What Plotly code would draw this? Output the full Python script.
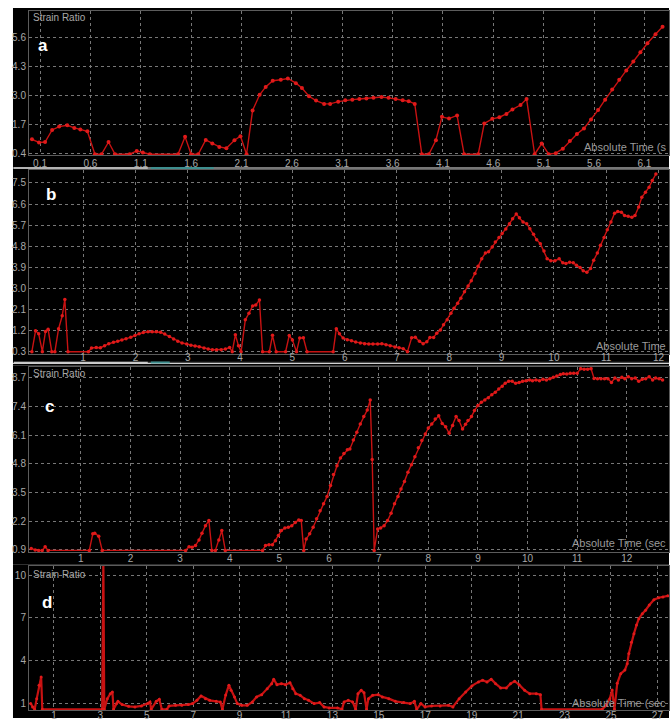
import plotly.graph_objects as go

W, H = 670, 722

# ---------------- data ----------------
a_t = [0.02, 0.09, 0.15, 0.22, 0.29, 0.37, 0.44, 0.50, 0.57, 0.645, 0.71, 0.78, 0.845, 0.99, 1.06, 1.12, 1.19,
       1.47, 1.54, 1.60, 1.67, 1.745, 1.81, 1.88, 1.95, 2.03, 2.09, 2.15, 2.21, 2.28, 2.34, 2.41, 2.49, 2.56,
       2.64, 2.70, 2.77, 2.84, 2.92, 2.98, 3.06, 3.13, 3.20, 3.27, 3.34, 3.41, 3.49, 3.56, 3.63, 3.70, 3.76,
       3.82, 3.89, 3.96, 4.03, 4.09, 4.16, 4.24, 4.31, 4.45, 4.51, 4.59, 4.66, 4.73, 4.79, 4.87, 4.93, 5.01,
       5.08, 5.15, 5.22, 5.29, 5.36, 5.43, 5.50, 5.57, 5.64, 5.71, 5.78, 5.85, 5.92, 5.99, 6.06, 6.13, 6.21, 6.28]
a_v = [1.04, 0.90, 0.92, 1.46, 1.61, 1.67, 1.55, 1.48, 1.40, 0.37, 0.37, 0.92, 0.37, 0.37, 0.52, 0.45, 0.37,
       0.37, 1.15, 0.37, 0.37, 1.01, 0.85, 0.70, 0.64, 1.00, 1.18, 0.37, 2.33, 3.04, 3.39, 3.67, 3.71, 3.77,
       3.56, 3.34, 2.97, 2.78, 2.63, 2.63, 2.73, 2.79, 2.82, 2.85, 2.87, 2.90, 2.94, 2.90, 2.85, 2.79, 2.75,
       2.63, 0.37, 0.37, 1.00, 2.05, 1.97, 2.11, 0.37, 0.37, 1.75, 1.96, 2.03, 2.18, 2.38, 2.58, 2.85, 0.37,
       0.85, 0.37, 0.42, 0.62, 0.96, 1.28, 1.53, 1.93, 2.35, 2.82, 3.27, 3.71, 4.13, 4.53, 4.95, 5.35, 5.75, 6.09]
a_xticks = [0.1, 0.6, 1.1, 1.6, 2.1, 2.6, 3.1, 3.6, 4.1, 4.6, 5.1, 5.6, 6.1]
a_xlabels = ["0.1", "0.6", "1.1", "1.6", "2.1", "2.6", "3.1", "3.6", "4.1", "4.6", "5.1", "5.6", "6.1"]
a_yticks = [0.4, 1.7, 3.0, 4.3, 5.6]
a_ylabels = ["0.4", "1.7", "3.0", "4.3", "5.6"]

b_t = [0.02, 0.09, 0.15, 0.22, 0.28, 0.33, 0.40, 0.46, 0.53, 0.60, 0.65, 0.71, 1.10, 1.16, 1.25, 1.33, 1.41,
       1.49, 1.58, 1.66, 1.74, 1.82, 1.91, 1.99, 2.07, 2.15, 2.24, 2.32, 2.40, 2.48, 2.56, 2.65, 2.73, 2.81,
       2.89, 2.98, 3.06, 3.14, 3.22, 3.31, 3.39, 3.47, 3.55, 3.64, 3.72, 3.80, 3.85, 3.91, 3.97, 4.02, 4.10,
       4.17, 4.24, 4.30, 4.37, 4.43, 4.56, 4.62, 4.69, 4.87, 4.94, 5.00, 5.08, 5.14, 5.21, 5.28, 5.78, 5.84,
       5.90, 5.97, 6.05, 6.13, 6.21, 6.30, 6.38, 6.46, 6.54, 6.63, 6.71, 6.79, 6.87, 6.96, 7.04, 7.12, 7.20,
       7.28, 7.35, 7.43, 7.50, 7.57, 7.63, 7.70, 7.76, 7.83, 7.89, 7.96, 8.03, 8.09, 8.16, 8.22, 8.29, 8.36,
       8.42, 8.49, 8.55, 8.62, 8.69, 8.75, 8.82, 8.88, 8.95, 9.01, 9.08, 9.15, 9.21, 9.28, 9.34, 9.41, 9.48,
       9.54, 9.61, 9.67, 9.74, 9.81, 9.87, 9.94, 10.02, 10.10, 10.17, 10.23, 10.30, 10.37, 10.43, 10.50,
       10.56, 10.63, 10.70, 10.76, 10.83, 10.89, 10.96, 11.02, 11.09, 11.16, 11.22, 11.29, 11.35, 11.42,
       11.49, 11.55, 11.62, 11.68, 11.75, 11.82, 11.88, 11.95]
b_v = [0.30, 1.19, 1.06, 0.30, 1.16, 1.26, 0.30, 0.30, 1.28, 1.83, 2.53, 0.30, 0.30, 0.46, 0.48, 0.47, 0.55,
       0.64, 0.70, 0.74, 0.80, 0.85, 0.92, 0.99, 1.06, 1.12, 1.15, 1.15, 1.15, 1.13, 1.05, 0.95, 0.84, 0.74,
       0.67, 0.63, 0.57, 0.54, 0.51, 0.46, 0.41, 0.38, 0.38, 0.38, 0.41, 0.48, 0.30, 1.02, 0.55, 0.30, 1.66,
       1.94, 2.25, 2.29, 2.51, 0.30, 0.30, 1.00, 0.30, 0.30, 0.99, 0.80, 0.30, 0.88, 0.89, 0.30, 0.30, 1.28,
       1.06, 0.88, 0.81, 0.77, 0.71, 0.67, 0.64, 0.63, 0.63, 0.63, 0.64, 0.60, 0.55, 0.50, 0.47, 0.43, 0.30,
       0.89, 0.92, 0.74, 0.64, 0.72, 0.91, 0.91, 1.09, 1.23, 1.45, 1.66, 1.94, 2.15, 2.37, 2.58, 2.86, 3.10,
       3.33, 3.64, 3.95, 4.27, 4.51, 4.56, 4.77, 4.98, 5.17, 5.34, 5.53, 5.76, 5.97, 6.18, 6.01, 5.83, 5.76,
       5.55, 5.31, 5.08, 4.91, 4.60, 4.27, 4.18, 4.18, 4.26, 4.09, 4.06, 4.12, 4.09, 3.99, 3.89,
       3.75, 3.69, 3.85, 4.20, 4.51, 4.84, 5.17, 5.50, 5.83, 6.21, 6.28, 6.25, 6.11, 6.08,
       6.04, 6.11, 6.47, 6.89, 7.10, 7.32, 7.60, 7.88]
b_xticks = [1, 2, 3, 4, 5, 6, 7, 8, 9, 10, 11, 12]
b_xlabels = ["1", "2", "3", "4", "5", "6", "7", "8", "9", "10", "11", "12"]
b_yticks = [0.3, 1.2, 2.1, 3.0, 3.9, 4.8, 5.7, 6.6, 7.5]
b_ylabels = ["0.3", "1.2", "2.1", "3.0", "3.9", "4.8", "5.7", "6.6", "7.5"]

c_t = [0.00, 0.08, 0.15, 0.22, 0.28, 0.34, 1.17, 1.24, 1.28, 1.36, 1.43, 3.11, 3.18, 3.24, 3.31, 3.38, 3.44,
       3.51, 3.58, 3.64, 3.71, 3.78, 3.84, 3.91, 4.66, 4.72, 4.79, 4.86, 4.92, 4.98, 5.04, 5.11, 5.18, 5.25,
       5.32, 5.39, 5.44, 5.49, 5.54, 5.61, 5.68, 5.75, 5.82, 5.89, 5.96, 6.03, 6.09, 6.16, 6.23, 6.30, 6.37,
       6.42, 6.49, 6.56, 6.63, 6.70, 6.77, 6.83, 6.87, 6.91, 6.98, 7.04, 7.11, 7.18, 7.25, 7.32, 7.39, 7.45,
       7.52, 7.59, 7.66, 7.73, 7.80, 7.87, 7.94, 8.00, 8.07, 8.14, 8.21, 8.28, 8.35, 8.42, 8.49, 8.56, 8.62,
       8.69, 8.75, 8.80, 8.87, 8.93, 9.00, 9.07, 9.14, 9.21, 9.28, 9.35, 9.42, 9.49, 9.55, 9.62, 9.69, 9.76,
       9.83, 9.90, 9.97, 10.04, 10.10, 10.17, 10.24, 10.31, 10.38, 10.45, 10.52, 10.59, 10.66, 10.72, 10.79,
       10.86, 10.93, 11.00, 11.07, 11.14, 11.21, 11.28, 11.34, 11.41, 11.48, 11.55, 11.62, 11.69, 11.76,
       11.83, 11.90, 11.96, 12.03, 12.10, 12.17, 12.24, 12.31, 12.38, 12.45, 12.52, 12.58, 12.65, 12.72]
c_v = [0.97, 0.90, 0.88, 0.88, 1.04, 0.88, 0.88, 1.63, 1.66, 1.52, 0.88, 0.88, 1.05, 1.02, 1.10, 1.35, 1.66,
       2.00, 2.23, 0.88, 0.88, 1.35, 1.78, 0.88, 0.88, 1.10, 1.14, 1.14, 1.32, 1.55, 1.78, 1.90, 1.93, 2.00,
       2.15, 2.26, 2.23, 0.88, 1.40, 1.63, 1.93, 2.31, 2.68, 2.99, 3.32, 3.82, 4.32, 4.72, 5.07, 5.28, 5.44,
       5.48, 5.89, 6.24, 6.61, 6.95, 7.25, 7.70, 5.00, 0.88, 1.85, 1.90, 2.00, 2.23, 2.56, 2.99, 3.32, 3.67,
       4.01, 4.42, 4.77, 5.13, 5.53, 5.86, 6.16, 6.43, 6.61, 6.84, 6.99, 6.64, 6.49, 6.19, 6.54, 6.95, 6.77,
       6.39, 6.60, 6.77, 6.95, 7.22, 7.45, 7.60, 7.70, 7.80, 7.94, 8.05, 8.20, 8.32, 8.46, 8.55, 8.55, 8.46,
       8.49, 8.55, 8.58, 8.61, 8.58, 8.61, 8.58, 8.64, 8.61, 8.67, 8.73, 8.79, 8.86, 8.89, 8.88,
       8.91, 8.91, 8.92, 9.12, 9.10, 9.10, 9.12, 8.68, 8.67, 8.67, 8.67, 8.67, 8.50, 8.70,
       8.61, 8.73, 8.67, 8.76, 8.67, 8.70, 8.55, 8.64, 8.66, 8.76, 8.61, 8.70, 8.66, 8.61]
c_xticks = [1, 2, 3, 4, 5, 6, 7, 8, 9, 10, 11, 12]
c_xlabels = ["1", "2", "3", "4", "5", "6", "7", "8", "9", "10", "11", "12"]
c_yticks = [0.9, 2.2, 3.5, 4.8, 6.1, 7.4, 8.7]
c_ylabels = ["0.9", "2.2", "3.5", "4.8", "6.1", "7.4", "8.7"]

d_t = [0.00, 0.08, 0.17, 0.26, 0.36, 0.45, 0.50, 3.08, 3.13, 3.17, 3.30, 3.43, 3.52, 3.57, 3.70, 3.76, 3.94,
       4.22, 4.49, 4.77, 5.04, 5.14, 5.19, 5.41, 5.54, 5.65, 5.87, 5.96, 6.24, 6.51, 6.79, 6.97, 7.16, 7.34,
       7.53, 7.71, 7.99, 8.17, 8.26, 8.40, 8.54, 8.63, 8.78, 8.90, 9.09, 9.33, 9.55, 9.73, 9.95, 10.19, 10.38,
       10.47, 10.61, 10.80, 10.98, 11.17, 11.29, 11.42, 11.61, 11.79, 11.97, 12.21, 12.45, 12.64, 12.86,
       13.22, 13.41, 13.50, 13.68, 13.87, 14.00, 14.10, 14.24, 14.36, 14.47, 14.55, 14.73, 14.97, 15.15,
       15.43, 15.71, 16.07, 16.35, 16.53, 16.63, 16.81, 16.99, 17.27, 17.64, 18.00, 18.19, 18.46, 18.74,
       19.01, 19.29, 19.47, 19.66, 19.84, 20.03, 20.25, 20.49, 20.67, 20.85, 21.04, 21.28, 21.50, 21.78,
       21.96, 22.01, 24.62, 24.80, 24.95, 25.05, 25.15, 25.27, 25.42, 25.60, 25.70, 25.77, 25.88, 25.99,
       26.10, 26.20, 26.35, 26.49, 26.65, 26.85, 27.05, 27.24, 27.45]
d_v = [1.00, 0.77, 0.60, 1.35, 2.29, 2.87, 0.60, 0.60, 10.9, 0.60, 1.35, 1.70, 1.82, 0.60, 1.00, 1.16, 0.93,
       0.81, 0.77, 0.84, 1.00, 1.12, 0.60, 1.16, 1.30, 0.60, 0.60, 0.84, 0.88, 0.88, 0.93, 1.00, 1.23, 1.54,
       1.35, 1.23, 1.16, 1.12, 0.60, 1.60, 2.29, 1.93, 1.47, 1.00, 0.88, 0.88, 1.12, 1.47, 1.63, 2.05, 2.40,
       2.71, 2.33, 2.40, 2.33, 2.47, 2.05, 1.70, 1.58, 1.35, 1.23, 1.00, 1.07, 0.77, 0.70,
       0.70, 0.60, 1.12, 1.23, 1.12, 0.60, 1.70, 1.93, 1.77, 0.60, 1.35, 1.58, 1.63, 1.47,
       1.35, 1.16, 1.07, 1.00, 1.16, 0.60, 1.00, 0.77, 0.84, 0.84, 0.88, 0.77, 1.35, 1.82,
       2.24, 2.52, 2.64, 2.52, 2.71, 2.40, 2.10, 2.10, 2.40, 2.57, 2.33, 1.93, 1.70, 1.70,
       1.63, 0.60, 0.60, 0.88, 1.35, 1.96, 0.60, 2.42, 3.10, 3.35, 3.80, 4.51, 5.30, 5.90,
       6.50, 6.95, 7.30, 7.54, 7.90, 8.28, 8.42, 8.47, 8.55]
d_xticks = [1, 3, 5, 7, 9, 11, 13, 15, 17, 19, 21, 23, 25, 27]
d_xlabels = ["1", "3", "5", "7", "9", "11", "13", "15", "17", "19", "21", "23", "25", "27"]
d_yticks = [1, 4, 7, 10]
d_ylabels = ["1", "4", "7", "10"]

panel_letters = ["a", "b", "c", "d"]
y_title = "Strain Ratio"
# the x-axis title is cropped at the right edge of each panel in the original figure
x_titles = ["Absolute Time (s", "Absolute Time", "Absolute Time (sec", "Absolute Time (sec"]

# ---------------- layout helpers ----------------
def fx(px):
    return px / W


def fy(py):
    return 1 - py / H


RED_LINE = "#c81212"
RED_DOT = "#e01a1a"
GRID = "#777777"
TXT = "#a8a8a8"
FRAME = "#5c5c5c"
TICKFONT = dict(family="Liberation Sans Narrow, Arial Narrow, Liberation Sans, Arial, sans-serif", size=10, color=TXT)

panels = [
    dict(t=a_t, v=a_v, xt=a_xticks, xl=a_xlabels, yt=a_yticks, yl=a_ylabels, top=11, bot=156,
         xr=[-0.01, 6.344], yr=[0.33, 6.8], ms=4, lw=1.4, std=-1),
    dict(t=b_t, v=b_v, xt=b_xticks, xl=b_xlabels, yt=b_yticks, yl=b_ylabels, top=171, bot=356,
         xr=[-0.036, 12.2], yr=[0.2, 8.05], ms=3.5, lw=1.4, std=-6),
    dict(t=c_t, v=c_v, xt=c_xticks, xl=c_xlabels, yt=c_yticks, yl=c_ylabels, top=369, bot=555,
         xr=[-0.046, 12.85], yr=[0.81, 9.2], ms=3.5, lw=1.4, std=-3),
    dict(t=d_t, v=d_v, xt=d_xticks, xl=d_xlabels, yt=d_yticks, yl=d_ylabels, top=569, bot=714,
         xr=[-0.075, 27.5], yr=[0.55, 10.65], ms=3, lw=2.2, std=-4),
]

fig = go.Figure()
layout = dict(
    width=W, height=H, margin=dict(l=0, r=0, t=0, b=0),
    paper_bgcolor="white", plot_bgcolor="black", showlegend=False,
)

for i, p in enumerate(panels):
    n = "" if i == 0 else str(i + 1)
    fig.add_trace(go.Scatter(
        x=p["t"], y=p["v"], xaxis="x" + n, yaxis="y" + n, mode="lines+markers",
        line=dict(color=RED_LINE, width=p["lw"]),
        marker=dict(color=RED_DOT, size=p["ms"]),
        cliponaxis=True, hoverinfo="skip",
    ))
    layout["xaxis" + n] = dict(
        domain=[fx(29), 1.0], range=p["xr"], anchor="y" + n,
        tickmode="array", tickvals=p["xt"], ticktext=p["xl"], tickfont=TICKFONT,
        ticks="", ticklabelstandoff=p["std"],
        showgrid=True, gridcolor=GRID, griddash="dot", gridwidth=1,
        zeroline=False, showline=True, linecolor=FRAME, linewidth=1, mirror=True,
    )
    layout["yaxis" + n] = dict(
        domain=[fy(p["bot"]), fy(p["top"])], range=p["yr"], anchor="x" + n,
        tickmode="array", tickvals=p["yt"], ticktext=p["yl"], tickfont=TICKFONT,
        ticks="", ticklabelstandoff=0,
        showgrid=True, gridcolor=GRID, griddash="dot", gridwidth=1,
        zeroline=False, showline=True, linecolor=FRAME, linewidth=1, mirror=True,
    )

shapes = []
for (y0, y1) in [(8, 168), (170, 364), (366, 568), (568, 722)]:
    shapes.append(dict(type="rect", xref="paper", yref="paper", x0=fx(13), x1=1, y0=fy(y1), y1=fy(y0),
                       fillcolor="black", line=dict(width=0), layer="below"))
for ys in [169, 364.5]:
    shapes.append(dict(type="line", xref="paper", yref="paper", x0=fx(13), x1=1, y0=fy(ys), y1=fy(ys),
                       line=dict(color="#4a4a4a", width=1.5), layer="above"))
    shapes.append(dict(type="line", xref="paper", yref="paper", x0=fx(14), x1=fx(148), y0=fy(ys), y1=fy(ys),
                       line=dict(color="#c8c8c8", width=1.5), layer="above"))
    shapes.append(dict(type="line", xref="paper", yref="paper", x0=fx(151), x1=fx(214 if ys < 200 else 170),
                       y0=fy(ys), y1=fy(ys), line=dict(color="#3f8f8f", width=2), layer="above"))
shapes.append(dict(type="line", xref="paper", yref="paper", x0=fx(13), x1=1, y0=fy(367.5), y1=fy(367.5),
                   line=dict(color="#3a3a3a", width=1), layer="above"))
layout["shapes"] = shapes

ann = []
letter_pos = [(43, 46), (51, 196), (50, 409), (47, 606)]
for L, (px, py) in zip(panel_letters, letter_pos):
    ann.append(dict(text="<b>%s</b>" % L, x=fx(px), y=fy(py), xref="paper", yref="paper",
                    xanchor="center", yanchor="middle", showarrow=False,
                    font=dict(family="Liberation Sans, Arial, sans-serif", size=17, color="white")))
TITLEFONT = dict(family="Liberation Sans, Arial, sans-serif", size=10, color=TXT)
XTITLEFONT = dict(family="Liberation Sans, Arial, sans-serif", size=11, color="#9a9a9a")
for (px, py) in [(31, 18), (31, 376), (31, 578)]:
    ann.append(dict(text=y_title, x=fx(px), y=fy(py), xref="paper", yref="paper", xanchor="left",
                    yanchor="middle", showarrow=False, font=TITLEFONT))
for txt, py in zip(x_titles, [148, 348, 546, 707]):
    ann.append(dict(text=txt, x=fx(669), y=fy(py), xref="paper", yref="paper", xanchor="right",
                    yanchor="middle", showarrow=False, font=XTITLEFONT))
layout["annotations"] = ann

fig.update_layout(**layout)
fig.write_html("out.html", config={"displayModeBar": False},
               post_script="document.body.style.margin='0';document.body.style.overflow='hidden';")
